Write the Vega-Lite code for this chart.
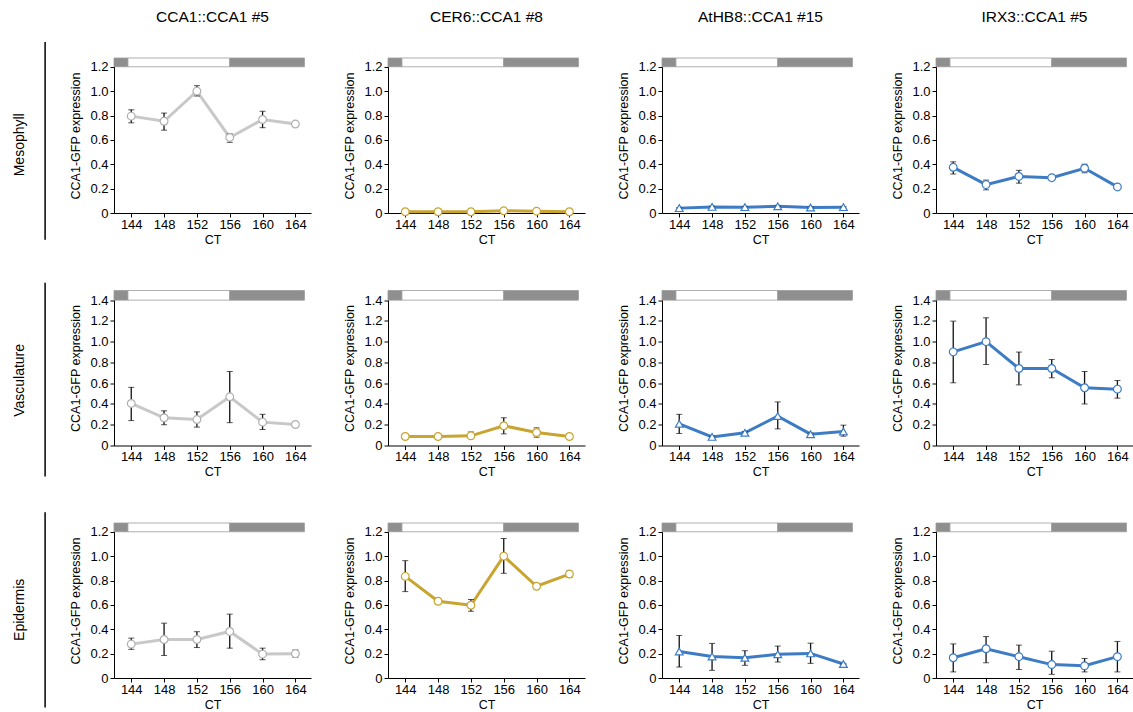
{
"$schema": "https://vega.github.io/schema/vega-lite/v6.json",
"padding": {"left": 10, "top": 10, "right": 5, "bottom": 5},
"background": "white",
"config": {
 "font": "Liberation Sans",
 "view": {"stroke": null},
 "axis": {"grid": false, "domainColor": "#000", "tickColor": "#000", "labelColor": "#000", "titleColor": "#000", "labelFontSize": 13, "titleFontSize": 12.5, "titleFontWeight": "normal", "tickSize": 4, "labelPadding": 2, "labelFlush": false, "labelOverlap": false},
 "axisX": {"labelPadding": 1, "titlePadding": 2},
 "axisY": {"tickCount": 7, "labelExpr": "datum.value === 0 ? '0' : format(datum.value, '.1f')", "titlePadding": 7},
 "title": {"fontSize": 15.5, "fontWeight": "normal", "color": "#000", "offset": 32, "frame": "group", "anchor": "middle"}
},
"datasets": {
 "b12": [
  {"start":141.9,"end":143.6,"phase":"dark","b0":1.2,"b1":1.272},
  {"start":143.6,"end":156,"phase":"light","b0":1.2,"b1":1.272},
  {"start":156,"end":165.1,"phase":"dark","b0":1.2,"b1":1.272}
 ],
 "b14": [
  {"start":141.9,"end":143.6,"phase":"dark","b0":1.4,"b1":1.493},
  {"start":143.6,"end":156,"phase":"light","b0":1.4,"b1":1.493},
  {"start":156,"end":165.1,"phase":"dark","b0":1.4,"b1":1.493}
 ],
 "d": [
  {"tissue":"Mesophyll","construct":"CCA1::CCA1 #5","ct":144,"v":0.795,"lo":0.74,"hi":0.847},
  {"tissue":"Mesophyll","construct":"CCA1::CCA1 #5","ct":148,"v":0.753,"lo":0.68,"hi":0.82},
  {"tissue":"Mesophyll","construct":"CCA1::CCA1 #5","ct":152,"v":1.0,"lo":0.96,"hi":1.045},
  {"tissue":"Mesophyll","construct":"CCA1::CCA1 #5","ct":156,"v":0.62,"lo":0.58,"hi":0.65},
  {"tissue":"Mesophyll","construct":"CCA1::CCA1 #5","ct":160,"v":0.767,"lo":0.70,"hi":0.835},
  {"tissue":"Mesophyll","construct":"CCA1::CCA1 #5","ct":164,"v":0.73,"lo":0.71,"hi":0.75},
  {"tissue":"Mesophyll","construct":"CER6::CCA1 #8","ct":144,"v":0.01,"lo":0.005,"hi":0.015},
  {"tissue":"Mesophyll","construct":"CER6::CCA1 #8","ct":148,"v":0.01,"lo":0.005,"hi":0.015},
  {"tissue":"Mesophyll","construct":"CER6::CCA1 #8","ct":152,"v":0.01,"lo":0.005,"hi":0.015},
  {"tissue":"Mesophyll","construct":"CER6::CCA1 #8","ct":156,"v":0.018,"lo":0.012,"hi":0.024},
  {"tissue":"Mesophyll","construct":"CER6::CCA1 #8","ct":160,"v":0.015,"lo":0.01,"hi":0.02},
  {"tissue":"Mesophyll","construct":"CER6::CCA1 #8","ct":164,"v":0.01,"lo":0.005,"hi":0.015},
  {"tissue":"Mesophyll","construct":"AtHB8::CCA1 #15","ct":144,"v":0.04,"lo":0.035,"hi":0.045},
  {"tissue":"Mesophyll","construct":"AtHB8::CCA1 #15","ct":148,"v":0.05,"lo":0.045,"hi":0.055},
  {"tissue":"Mesophyll","construct":"AtHB8::CCA1 #15","ct":152,"v":0.048,"lo":0.043,"hi":0.053},
  {"tissue":"Mesophyll","construct":"AtHB8::CCA1 #15","ct":156,"v":0.055,"lo":0.05,"hi":0.06},
  {"tissue":"Mesophyll","construct":"AtHB8::CCA1 #15","ct":160,"v":0.045,"lo":0.04,"hi":0.05},
  {"tissue":"Mesophyll","construct":"AtHB8::CCA1 #15","ct":164,"v":0.048,"lo":0.043,"hi":0.053},
  {"tissue":"Mesophyll","construct":"IRX3::CCA1 #5","ct":144,"v":0.375,"lo":0.32,"hi":0.42},
  {"tissue":"Mesophyll","construct":"IRX3::CCA1 #5","ct":148,"v":0.233,"lo":0.19,"hi":0.27},
  {"tissue":"Mesophyll","construct":"IRX3::CCA1 #5","ct":152,"v":0.30,"lo":0.245,"hi":0.35},
  {"tissue":"Mesophyll","construct":"IRX3::CCA1 #5","ct":156,"v":0.29,"lo":0.28,"hi":0.30},
  {"tissue":"Mesophyll","construct":"IRX3::CCA1 #5","ct":160,"v":0.367,"lo":0.33,"hi":0.40},
  {"tissue":"Mesophyll","construct":"IRX3::CCA1 #5","ct":164,"v":0.214,"lo":0.205,"hi":0.222},

  {"tissue":"Vasculature","construct":"CCA1::CCA1 #5","ct":144,"v":0.405,"lo":0.24,"hi":0.56},
  {"tissue":"Vasculature","construct":"CCA1::CCA1 #5","ct":148,"v":0.267,"lo":0.20,"hi":0.334},
  {"tissue":"Vasculature","construct":"CCA1::CCA1 #5","ct":152,"v":0.25,"lo":0.177,"hi":0.324},
  {"tissue":"Vasculature","construct":"CCA1::CCA1 #5","ct":156,"v":0.469,"lo":0.22,"hi":0.713},
  {"tissue":"Vasculature","construct":"CCA1::CCA1 #5","ct":160,"v":0.225,"lo":0.154,"hi":0.30},
  {"tissue":"Vasculature","construct":"CCA1::CCA1 #5","ct":164,"v":0.202,"lo":0.195,"hi":0.21},
  {"tissue":"Vasculature","construct":"CER6::CCA1 #8","ct":144,"v":0.087,"lo":0.065,"hi":0.105},
  {"tissue":"Vasculature","construct":"CER6::CCA1 #8","ct":148,"v":0.087,"lo":0.08,"hi":0.094},
  {"tissue":"Vasculature","construct":"CER6::CCA1 #8","ct":152,"v":0.093,"lo":0.067,"hi":0.13},
  {"tissue":"Vasculature","construct":"CER6::CCA1 #8","ct":156,"v":0.19,"lo":0.112,"hi":0.267},
  {"tissue":"Vasculature","construct":"CER6::CCA1 #8","ct":160,"v":0.125,"lo":0.08,"hi":0.17},
  {"tissue":"Vasculature","construct":"CER6::CCA1 #8","ct":164,"v":0.087,"lo":0.08,"hi":0.094},
  {"tissue":"Vasculature","construct":"AtHB8::CCA1 #15","ct":144,"v":0.209,"lo":0.116,"hi":0.30},
  {"tissue":"Vasculature","construct":"AtHB8::CCA1 #15","ct":148,"v":0.083,"lo":0.075,"hi":0.09},
  {"tissue":"Vasculature","construct":"AtHB8::CCA1 #15","ct":152,"v":0.122,"lo":0.11,"hi":0.135},
  {"tissue":"Vasculature","construct":"AtHB8::CCA1 #15","ct":156,"v":0.283,"lo":0.16,"hi":0.42},
  {"tissue":"Vasculature","construct":"AtHB8::CCA1 #15","ct":160,"v":0.109,"lo":0.10,"hi":0.12},
  {"tissue":"Vasculature","construct":"AtHB8::CCA1 #15","ct":164,"v":0.135,"lo":0.09,"hi":0.196},
  {"tissue":"Vasculature","construct":"IRX3::CCA1 #5","ct":144,"v":0.902,"lo":0.604,"hi":1.198},
  {"tissue":"Vasculature","construct":"IRX3::CCA1 #5","ct":148,"v":1.0,"lo":0.78,"hi":1.23},
  {"tissue":"Vasculature","construct":"IRX3::CCA1 #5","ct":152,"v":0.742,"lo":0.584,"hi":0.90},
  {"tissue":"Vasculature","construct":"IRX3::CCA1 #5","ct":156,"v":0.742,"lo":0.652,"hi":0.828},
  {"tissue":"Vasculature","construct":"IRX3::CCA1 #5","ct":160,"v":0.556,"lo":0.40,"hi":0.713},
  {"tissue":"Vasculature","construct":"IRX3::CCA1 #5","ct":164,"v":0.543,"lo":0.456,"hi":0.626},

  {"tissue":"Epidermis","construct":"CCA1::CCA1 #5","ct":144,"v":0.278,"lo":0.235,"hi":0.327},
  {"tissue":"Epidermis","construct":"CCA1::CCA1 #5","ct":148,"v":0.316,"lo":0.185,"hi":0.45},
  {"tissue":"Epidermis","construct":"CCA1::CCA1 #5","ct":152,"v":0.316,"lo":0.25,"hi":0.38},
  {"tissue":"Epidermis","construct":"CCA1::CCA1 #5","ct":156,"v":0.382,"lo":0.245,"hi":0.524},
  {"tissue":"Epidermis","construct":"CCA1::CCA1 #5","ct":160,"v":0.196,"lo":0.15,"hi":0.245},
  {"tissue":"Epidermis","construct":"CCA1::CCA1 #5","ct":164,"v":0.20,"lo":0.17,"hi":0.23},
  {"tissue":"Epidermis","construct":"CER6::CCA1 #8","ct":144,"v":0.834,"lo":0.709,"hi":0.963},
  {"tissue":"Epidermis","construct":"CER6::CCA1 #8","ct":148,"v":0.63,"lo":0.625,"hi":0.635},
  {"tissue":"Epidermis","construct":"CER6::CCA1 #8","ct":152,"v":0.597,"lo":0.548,"hi":0.644},
  {"tissue":"Epidermis","construct":"CER6::CCA1 #8","ct":156,"v":1.0,"lo":0.859,"hi":1.145},
  {"tissue":"Epidermis","construct":"CER6::CCA1 #8","ct":160,"v":0.753,"lo":0.748,"hi":0.758},
  {"tissue":"Epidermis","construct":"CER6::CCA1 #8","ct":164,"v":0.853,"lo":0.826,"hi":0.878},
  {"tissue":"Epidermis","construct":"AtHB8::CCA1 #15","ct":144,"v":0.218,"lo":0.09,"hi":0.349},
  {"tissue":"Epidermis","construct":"AtHB8::CCA1 #15","ct":148,"v":0.177,"lo":0.063,"hi":0.284},
  {"tissue":"Epidermis","construct":"AtHB8::CCA1 #15","ct":152,"v":0.166,"lo":0.104,"hi":0.224},
  {"tissue":"Epidermis","construct":"AtHB8::CCA1 #15","ct":156,"v":0.194,"lo":0.131,"hi":0.262},
  {"tissue":"Epidermis","construct":"AtHB8::CCA1 #15","ct":160,"v":0.202,"lo":0.12,"hi":0.286},
  {"tissue":"Epidermis","construct":"AtHB8::CCA1 #15","ct":164,"v":0.115,"lo":0.11,"hi":0.12},
  {"tissue":"Epidermis","construct":"IRX3::CCA1 #5","ct":144,"v":0.166,"lo":0.05,"hi":0.28},
  {"tissue":"Epidermis","construct":"IRX3::CCA1 #5","ct":148,"v":0.24,"lo":0.125,"hi":0.34},
  {"tissue":"Epidermis","construct":"IRX3::CCA1 #5","ct":152,"v":0.175,"lo":0.07,"hi":0.27},
  {"tissue":"Epidermis","construct":"IRX3::CCA1 #5","ct":156,"v":0.11,"lo":0.03,"hi":0.22},
  {"tissue":"Epidermis","construct":"IRX3::CCA1 #5","ct":160,"v":0.10,"lo":0.05,"hi":0.16},
  {"tissue":"Epidermis","construct":"IRX3::CCA1 #5","ct":164,"v":0.175,"lo":0.05,"hi":0.30}
 ]
},
"columns": 5,
"spacing": {"row": 77.5, "column": 77},
"bounds": "flush",
"resolve": {"scale": {"x": "independent", "y": "independent"}},
"concat": [
 {"width": 27, "height": 155, "data": {"values": [{"label": "Mesophyll"}]},
  "layer": [
   {"mark": {"type": "rule", "strokeWidth": 1.5, "color": "#000"},
    "encoding": {"x": {"datum": 1.3, "type": "quantitative", "scale": {"domain": [0, 1], "nice": false}, "axis": null}, "y": {"datum": -0.172, "type": "quantitative", "scale": {"domain": [0, 1], "nice": false}, "axis": null}, "y2": {"datum": 1.103}}},
   {"mark": {"type": "text", "angle": 270, "fontSize": 14, "color": "#000", "align": "center", "baseline": "middle"},
    "encoding": {"x": {"datum": 0.37, "type": "quantitative"}, "y": {"datum": 0.44, "type": "quantitative"}, "text": {"field": "label"}}}
  ]},
 {"width": 197, "height": 155, "title": "CCA1::CCA1 #5", "data": {"name": "d"},
  "transform": [{"filter": "datum.tissue === 'Mesophyll' && datum.construct === 'CCA1::CCA1 #5'"}],
  "encoding": {"x": {"field": "ct", "type": "quantitative", "title": "CT", "scale": {"domain": [141.9, 165.9], "nice": false, "zero": false}, "axis": {"values": [144, 148, 152, 156, 160, 164]}}, "y": {"field": "v", "type": "quantitative", "title": "CCA1-GFP expression", "scale": {"domain": [0, 1.272], "nice": false}}},
  "layer": [
   {"data": {"name": "b12"}, "mark": {"type": "rect", "stroke": "#9b9b9b", "strokeWidth": 0.8},
    "encoding": {"x": {"field": "start", "type": "quantitative", "title": "CT"}, "x2": {"field": "end"}, "y": {"field": "b0", "type": "quantitative", "title": "CCA1-GFP expression"}, "y2": {"field": "b1"}, "fill": {"field": "phase", "type": "nominal", "scale": {"domain": ["dark", "light"], "range": ["#8f8f90", "#ffffff"]}, "legend": null}}},
   {"mark": {"type": "line", "strokeWidth": 3, "color": "#c8c8c8"}},
   {"mark": {"type": "errorbar", "color": "#111", "ticks": {"size": 6}, "rule": {"strokeWidth": 1.3}},
    "encoding": {"y": {"field": "lo", "type": "quantitative", "title": "CCA1-GFP expression"}, "y2": {"field": "hi"}}},
   {"mark": {"type": "point", "shape": "circle", "filled": false, "fill": "white", "fillOpacity": 1, "opacity": 1, "stroke": "#b0b0b0", "strokeWidth": 1.2, "size": 60}}
  ]},
 {"width": 197, "height": 155, "title": "CER6::CCA1 #8", "data": {"name": "d"},
  "transform": [{"filter": "datum.tissue === 'Mesophyll' && datum.construct === 'CER6::CCA1 #8'"}],
  "encoding": {"x": {"field": "ct", "type": "quantitative", "title": "CT", "scale": {"domain": [141.9, 165.9], "nice": false, "zero": false}, "axis": {"values": [144, 148, 152, 156, 160, 164]}}, "y": {"field": "v", "type": "quantitative", "title": "CCA1-GFP expression", "scale": {"domain": [0, 1.272], "nice": false}}},
  "layer": [
   {"data": {"name": "b12"}, "mark": {"type": "rect", "stroke": "#9b9b9b", "strokeWidth": 0.8},
    "encoding": {"x": {"field": "start", "type": "quantitative", "title": "CT"}, "x2": {"field": "end"}, "y": {"field": "b0", "type": "quantitative", "title": "CCA1-GFP expression"}, "y2": {"field": "b1"}, "fill": {"field": "phase", "type": "nominal", "scale": {"domain": ["dark", "light"], "range": ["#8f8f90", "#ffffff"]}, "legend": null}}},
   {"mark": {"type": "line", "strokeWidth": 3, "color": "#c8a430"}},
   {"mark": {"type": "errorbar", "color": "#111", "ticks": {"size": 6}, "rule": {"strokeWidth": 1.3}},
    "encoding": {"y": {"field": "lo", "type": "quantitative", "title": "CCA1-GFP expression"}, "y2": {"field": "hi"}}},
   {"mark": {"type": "point", "shape": "circle", "filled": false, "fill": "white", "fillOpacity": 1, "opacity": 1, "stroke": "#c8a430", "strokeWidth": 1.2, "size": 60}}
  ]},
 {"width": 197, "height": 155, "title": "AtHB8::CCA1 #15", "data": {"name": "d"},
  "transform": [{"filter": "datum.tissue === 'Mesophyll' && datum.construct === 'AtHB8::CCA1 #15'"}],
  "encoding": {"x": {"field": "ct", "type": "quantitative", "title": "CT", "scale": {"domain": [141.9, 165.9], "nice": false, "zero": false}, "axis": {"values": [144, 148, 152, 156, 160, 164]}}, "y": {"field": "v", "type": "quantitative", "title": "CCA1-GFP expression", "scale": {"domain": [0, 1.272], "nice": false}}},
  "layer": [
   {"data": {"name": "b12"}, "mark": {"type": "rect", "stroke": "#9b9b9b", "strokeWidth": 0.8},
    "encoding": {"x": {"field": "start", "type": "quantitative", "title": "CT"}, "x2": {"field": "end"}, "y": {"field": "b0", "type": "quantitative", "title": "CCA1-GFP expression"}, "y2": {"field": "b1"}, "fill": {"field": "phase", "type": "nominal", "scale": {"domain": ["dark", "light"], "range": ["#8f8f90", "#ffffff"]}, "legend": null}}},
   {"mark": {"type": "line", "strokeWidth": 3, "color": "#3d7cc4"}},
   {"mark": {"type": "errorbar", "color": "#111", "ticks": {"size": 6}, "rule": {"strokeWidth": 1.3}},
    "encoding": {"y": {"field": "lo", "type": "quantitative", "title": "CCA1-GFP expression"}, "y2": {"field": "hi"}}},
   {"mark": {"type": "point", "shape": "triangle-up", "filled": false, "fill": "white", "fillOpacity": 1, "opacity": 1, "stroke": "#3d7cc4", "strokeWidth": 1.2, "size": 60}}
  ]},
 {"width": 197, "height": 155, "title": "IRX3::CCA1 #5", "data": {"name": "d"},
  "transform": [{"filter": "datum.tissue === 'Mesophyll' && datum.construct === 'IRX3::CCA1 #5'"}],
  "encoding": {"x": {"field": "ct", "type": "quantitative", "title": "CT", "scale": {"domain": [141.9, 165.9], "nice": false, "zero": false}, "axis": {"values": [144, 148, 152, 156, 160, 164]}}, "y": {"field": "v", "type": "quantitative", "title": "CCA1-GFP expression", "scale": {"domain": [0, 1.272], "nice": false}}},
  "layer": [
   {"data": {"name": "b12"}, "mark": {"type": "rect", "stroke": "#9b9b9b", "strokeWidth": 0.8},
    "encoding": {"x": {"field": "start", "type": "quantitative", "title": "CT"}, "x2": {"field": "end"}, "y": {"field": "b0", "type": "quantitative", "title": "CCA1-GFP expression"}, "y2": {"field": "b1"}, "fill": {"field": "phase", "type": "nominal", "scale": {"domain": ["dark", "light"], "range": ["#8f8f90", "#ffffff"]}, "legend": null}}},
   {"mark": {"type": "line", "strokeWidth": 3, "color": "#3d7cc4"}},
   {"mark": {"type": "errorbar", "color": "#111", "ticks": {"size": 6}, "rule": {"strokeWidth": 1.3}},
    "encoding": {"y": {"field": "lo", "type": "quantitative", "title": "CCA1-GFP expression"}, "y2": {"field": "hi"}}},
   {"mark": {"type": "point", "shape": "circle", "filled": false, "fill": "white", "fillOpacity": 1, "opacity": 1, "stroke": "#3d7cc4", "strokeWidth": 1.2, "size": 60}}
  ]},

 {"width": 27, "height": 155, "data": {"values": [{"label": "Vasculature"}]},
  "layer": [
   {"mark": {"type": "rule", "strokeWidth": 1.5, "color": "#000"},
    "encoding": {"x": {"datum": 1.3, "type": "quantitative", "scale": {"domain": [0, 1], "nice": false}, "axis": null}, "y": {"datum": -0.2, "type": "quantitative", "scale": {"domain": [0, 1], "nice": false}, "axis": null}, "y2": {"datum": 1.05}}},
   {"mark": {"type": "text", "angle": 270, "fontSize": 14, "color": "#000", "align": "center", "baseline": "middle"},
    "encoding": {"x": {"datum": 0.37, "type": "quantitative"}, "y": {"datum": 0.42, "type": "quantitative"}, "text": {"field": "label"}}}
  ]},
 {"width": 197, "height": 155, "data": {"name": "d"},
  "transform": [{"filter": "datum.tissue === 'Vasculature' && datum.construct === 'CCA1::CCA1 #5'"}],
  "encoding": {"x": {"field": "ct", "type": "quantitative", "title": "CT", "scale": {"domain": [141.9, 165.9], "nice": false, "zero": false}, "axis": {"values": [144, 148, 152, 156, 160, 164]}}, "y": {"field": "v", "type": "quantitative", "title": "CCA1-GFP expression", "scale": {"domain": [0, 1.493], "nice": false}}},
  "layer": [
   {"data": {"name": "b14"}, "mark": {"type": "rect", "stroke": "#9b9b9b", "strokeWidth": 0.8},
    "encoding": {"x": {"field": "start", "type": "quantitative", "title": "CT"}, "x2": {"field": "end"}, "y": {"field": "b0", "type": "quantitative", "title": "CCA1-GFP expression"}, "y2": {"field": "b1"}, "fill": {"field": "phase", "type": "nominal", "scale": {"domain": ["dark", "light"], "range": ["#8f8f90", "#ffffff"]}, "legend": null}}},
   {"mark": {"type": "line", "strokeWidth": 3, "color": "#c8c8c8"}},
   {"mark": {"type": "errorbar", "color": "#111", "ticks": {"size": 6}, "rule": {"strokeWidth": 1.3}},
    "encoding": {"y": {"field": "lo", "type": "quantitative", "title": "CCA1-GFP expression"}, "y2": {"field": "hi"}}},
   {"mark": {"type": "point", "shape": "circle", "filled": false, "fill": "white", "fillOpacity": 1, "opacity": 1, "stroke": "#b0b0b0", "strokeWidth": 1.2, "size": 60}}
  ]},
 {"width": 197, "height": 155, "data": {"name": "d"},
  "transform": [{"filter": "datum.tissue === 'Vasculature' && datum.construct === 'CER6::CCA1 #8'"}],
  "encoding": {"x": {"field": "ct", "type": "quantitative", "title": "CT", "scale": {"domain": [141.9, 165.9], "nice": false, "zero": false}, "axis": {"values": [144, 148, 152, 156, 160, 164]}}, "y": {"field": "v", "type": "quantitative", "title": "CCA1-GFP expression", "scale": {"domain": [0, 1.493], "nice": false}}},
  "layer": [
   {"data": {"name": "b14"}, "mark": {"type": "rect", "stroke": "#9b9b9b", "strokeWidth": 0.8},
    "encoding": {"x": {"field": "start", "type": "quantitative", "title": "CT"}, "x2": {"field": "end"}, "y": {"field": "b0", "type": "quantitative", "title": "CCA1-GFP expression"}, "y2": {"field": "b1"}, "fill": {"field": "phase", "type": "nominal", "scale": {"domain": ["dark", "light"], "range": ["#8f8f90", "#ffffff"]}, "legend": null}}},
   {"mark": {"type": "line", "strokeWidth": 3, "color": "#c8a430"}},
   {"mark": {"type": "errorbar", "color": "#111", "ticks": {"size": 6}, "rule": {"strokeWidth": 1.3}},
    "encoding": {"y": {"field": "lo", "type": "quantitative", "title": "CCA1-GFP expression"}, "y2": {"field": "hi"}}},
   {"mark": {"type": "point", "shape": "circle", "filled": false, "fill": "white", "fillOpacity": 1, "opacity": 1, "stroke": "#c8a430", "strokeWidth": 1.2, "size": 60}}
  ]},
 {"width": 197, "height": 155, "data": {"name": "d"},
  "transform": [{"filter": "datum.tissue === 'Vasculature' && datum.construct === 'AtHB8::CCA1 #15'"}],
  "encoding": {"x": {"field": "ct", "type": "quantitative", "title": "CT", "scale": {"domain": [141.9, 165.9], "nice": false, "zero": false}, "axis": {"values": [144, 148, 152, 156, 160, 164]}}, "y": {"field": "v", "type": "quantitative", "title": "CCA1-GFP expression", "scale": {"domain": [0, 1.493], "nice": false}}},
  "layer": [
   {"data": {"name": "b14"}, "mark": {"type": "rect", "stroke": "#9b9b9b", "strokeWidth": 0.8},
    "encoding": {"x": {"field": "start", "type": "quantitative", "title": "CT"}, "x2": {"field": "end"}, "y": {"field": "b0", "type": "quantitative", "title": "CCA1-GFP expression"}, "y2": {"field": "b1"}, "fill": {"field": "phase", "type": "nominal", "scale": {"domain": ["dark", "light"], "range": ["#8f8f90", "#ffffff"]}, "legend": null}}},
   {"mark": {"type": "line", "strokeWidth": 3, "color": "#3d7cc4"}},
   {"mark": {"type": "errorbar", "color": "#111", "ticks": {"size": 6}, "rule": {"strokeWidth": 1.3}},
    "encoding": {"y": {"field": "lo", "type": "quantitative", "title": "CCA1-GFP expression"}, "y2": {"field": "hi"}}},
   {"mark": {"type": "point", "shape": "triangle-up", "filled": false, "fill": "white", "fillOpacity": 1, "opacity": 1, "stroke": "#3d7cc4", "strokeWidth": 1.2, "size": 60}}
  ]},
 {"width": 197, "height": 155, "data": {"name": "d"},
  "transform": [{"filter": "datum.tissue === 'Vasculature' && datum.construct === 'IRX3::CCA1 #5'"}],
  "encoding": {"x": {"field": "ct", "type": "quantitative", "title": "CT", "scale": {"domain": [141.9, 165.9], "nice": false, "zero": false}, "axis": {"values": [144, 148, 152, 156, 160, 164]}}, "y": {"field": "v", "type": "quantitative", "title": "CCA1-GFP expression", "scale": {"domain": [0, 1.493], "nice": false}}},
  "layer": [
   {"data": {"name": "b14"}, "mark": {"type": "rect", "stroke": "#9b9b9b", "strokeWidth": 0.8},
    "encoding": {"x": {"field": "start", "type": "quantitative", "title": "CT"}, "x2": {"field": "end"}, "y": {"field": "b0", "type": "quantitative", "title": "CCA1-GFP expression"}, "y2": {"field": "b1"}, "fill": {"field": "phase", "type": "nominal", "scale": {"domain": ["dark", "light"], "range": ["#8f8f90", "#ffffff"]}, "legend": null}}},
   {"mark": {"type": "line", "strokeWidth": 3, "color": "#3d7cc4"}},
   {"mark": {"type": "errorbar", "color": "#111", "ticks": {"size": 6}, "rule": {"strokeWidth": 1.3}},
    "encoding": {"y": {"field": "lo", "type": "quantitative", "title": "CCA1-GFP expression"}, "y2": {"field": "hi"}}},
   {"mark": {"type": "point", "shape": "circle", "filled": false, "fill": "white", "fillOpacity": 1, "opacity": 1, "stroke": "#3d7cc4", "strokeWidth": 1.2, "size": 60}}
  ]},

 {"width": 27, "height": 155, "data": {"values": [{"label": "Epidermis"}]},
  "layer": [
   {"mark": {"type": "rule", "strokeWidth": 1.5, "color": "#000"},
    "encoding": {"x": {"datum": 1.3, "type": "quantitative", "scale": {"domain": [0, 1], "nice": false}, "axis": null}, "y": {"datum": -0.19, "type": "quantitative", "scale": {"domain": [0, 1], "nice": false}, "axis": null}, "y2": {"datum": 1.07}}},
   {"mark": {"type": "text", "angle": 270, "fontSize": 14, "color": "#000", "align": "center", "baseline": "middle"},
    "encoding": {"x": {"datum": 0.37, "type": "quantitative"}, "y": {"datum": 0.44, "type": "quantitative"}, "text": {"field": "label"}}}
  ]},
 {"width": 197, "height": 155, "data": {"name": "d"},
  "transform": [{"filter": "datum.tissue === 'Epidermis' && datum.construct === 'CCA1::CCA1 #5'"}],
  "encoding": {"x": {"field": "ct", "type": "quantitative", "title": "CT", "scale": {"domain": [141.9, 165.9], "nice": false, "zero": false}, "axis": {"values": [144, 148, 152, 156, 160, 164]}}, "y": {"field": "v", "type": "quantitative", "title": "CCA1-GFP expression", "scale": {"domain": [0, 1.272], "nice": false}}},
  "layer": [
   {"data": {"name": "b12"}, "mark": {"type": "rect", "stroke": "#9b9b9b", "strokeWidth": 0.8},
    "encoding": {"x": {"field": "start", "type": "quantitative", "title": "CT"}, "x2": {"field": "end"}, "y": {"field": "b0", "type": "quantitative", "title": "CCA1-GFP expression"}, "y2": {"field": "b1"}, "fill": {"field": "phase", "type": "nominal", "scale": {"domain": ["dark", "light"], "range": ["#8f8f90", "#ffffff"]}, "legend": null}}},
   {"mark": {"type": "line", "strokeWidth": 3, "color": "#c8c8c8"}},
   {"mark": {"type": "errorbar", "color": "#111", "ticks": {"size": 6}, "rule": {"strokeWidth": 1.3}},
    "encoding": {"y": {"field": "lo", "type": "quantitative", "title": "CCA1-GFP expression"}, "y2": {"field": "hi"}}},
   {"mark": {"type": "point", "shape": "circle", "filled": false, "fill": "white", "fillOpacity": 1, "opacity": 1, "stroke": "#b0b0b0", "strokeWidth": 1.2, "size": 60}}
  ]},
 {"width": 197, "height": 155, "data": {"name": "d"},
  "transform": [{"filter": "datum.tissue === 'Epidermis' && datum.construct === 'CER6::CCA1 #8'"}],
  "encoding": {"x": {"field": "ct", "type": "quantitative", "title": "CT", "scale": {"domain": [141.9, 165.9], "nice": false, "zero": false}, "axis": {"values": [144, 148, 152, 156, 160, 164]}}, "y": {"field": "v", "type": "quantitative", "title": "CCA1-GFP expression", "scale": {"domain": [0, 1.272], "nice": false}}},
  "layer": [
   {"data": {"name": "b12"}, "mark": {"type": "rect", "stroke": "#9b9b9b", "strokeWidth": 0.8},
    "encoding": {"x": {"field": "start", "type": "quantitative", "title": "CT"}, "x2": {"field": "end"}, "y": {"field": "b0", "type": "quantitative", "title": "CCA1-GFP expression"}, "y2": {"field": "b1"}, "fill": {"field": "phase", "type": "nominal", "scale": {"domain": ["dark", "light"], "range": ["#8f8f90", "#ffffff"]}, "legend": null}}},
   {"mark": {"type": "line", "strokeWidth": 3, "color": "#c8a430"}},
   {"mark": {"type": "errorbar", "color": "#111", "ticks": {"size": 6}, "rule": {"strokeWidth": 1.3}},
    "encoding": {"y": {"field": "lo", "type": "quantitative", "title": "CCA1-GFP expression"}, "y2": {"field": "hi"}}},
   {"mark": {"type": "point", "shape": "circle", "filled": false, "fill": "white", "fillOpacity": 1, "opacity": 1, "stroke": "#c8a430", "strokeWidth": 1.2, "size": 60}}
  ]},
 {"width": 197, "height": 155, "data": {"name": "d"},
  "transform": [{"filter": "datum.tissue === 'Epidermis' && datum.construct === 'AtHB8::CCA1 #15'"}],
  "encoding": {"x": {"field": "ct", "type": "quantitative", "title": "CT", "scale": {"domain": [141.9, 165.9], "nice": false, "zero": false}, "axis": {"values": [144, 148, 152, 156, 160, 164]}}, "y": {"field": "v", "type": "quantitative", "title": "CCA1-GFP expression", "scale": {"domain": [0, 1.272], "nice": false}}},
  "layer": [
   {"data": {"name": "b12"}, "mark": {"type": "rect", "stroke": "#9b9b9b", "strokeWidth": 0.8},
    "encoding": {"x": {"field": "start", "type": "quantitative", "title": "CT"}, "x2": {"field": "end"}, "y": {"field": "b0", "type": "quantitative", "title": "CCA1-GFP expression"}, "y2": {"field": "b1"}, "fill": {"field": "phase", "type": "nominal", "scale": {"domain": ["dark", "light"], "range": ["#8f8f90", "#ffffff"]}, "legend": null}}},
   {"mark": {"type": "line", "strokeWidth": 3, "color": "#3d7cc4"}},
   {"mark": {"type": "errorbar", "color": "#111", "ticks": {"size": 6}, "rule": {"strokeWidth": 1.3}},
    "encoding": {"y": {"field": "lo", "type": "quantitative", "title": "CCA1-GFP expression"}, "y2": {"field": "hi"}}},
   {"mark": {"type": "point", "shape": "triangle-up", "filled": false, "fill": "white", "fillOpacity": 1, "opacity": 1, "stroke": "#3d7cc4", "strokeWidth": 1.2, "size": 60}}
  ]},
 {"width": 197, "height": 155, "data": {"name": "d"},
  "transform": [{"filter": "datum.tissue === 'Epidermis' && datum.construct === 'IRX3::CCA1 #5'"}],
  "encoding": {"x": {"field": "ct", "type": "quantitative", "title": "CT", "scale": {"domain": [141.9, 165.9], "nice": false, "zero": false}, "axis": {"values": [144, 148, 152, 156, 160, 164]}}, "y": {"field": "v", "type": "quantitative", "title": "CCA1-GFP expression", "scale": {"domain": [0, 1.272], "nice": false}}},
  "layer": [
   {"data": {"name": "b12"}, "mark": {"type": "rect", "stroke": "#9b9b9b", "strokeWidth": 0.8},
    "encoding": {"x": {"field": "start", "type": "quantitative", "title": "CT"}, "x2": {"field": "end"}, "y": {"field": "b0", "type": "quantitative", "title": "CCA1-GFP expression"}, "y2": {"field": "b1"}, "fill": {"field": "phase", "type": "nominal", "scale": {"domain": ["dark", "light"], "range": ["#8f8f90", "#ffffff"]}, "legend": null}}},
   {"mark": {"type": "line", "strokeWidth": 3, "color": "#3d7cc4"}},
   {"mark": {"type": "errorbar", "color": "#111", "ticks": {"size": 6}, "rule": {"strokeWidth": 1.3}},
    "encoding": {"y": {"field": "lo", "type": "quantitative", "title": "CCA1-GFP expression"}, "y2": {"field": "hi"}}},
   {"mark": {"type": "point", "shape": "circle", "filled": false, "fill": "white", "fillOpacity": 1, "opacity": 1, "stroke": "#3d7cc4", "strokeWidth": 1.2, "size": 60}}
  ]}
]
}
